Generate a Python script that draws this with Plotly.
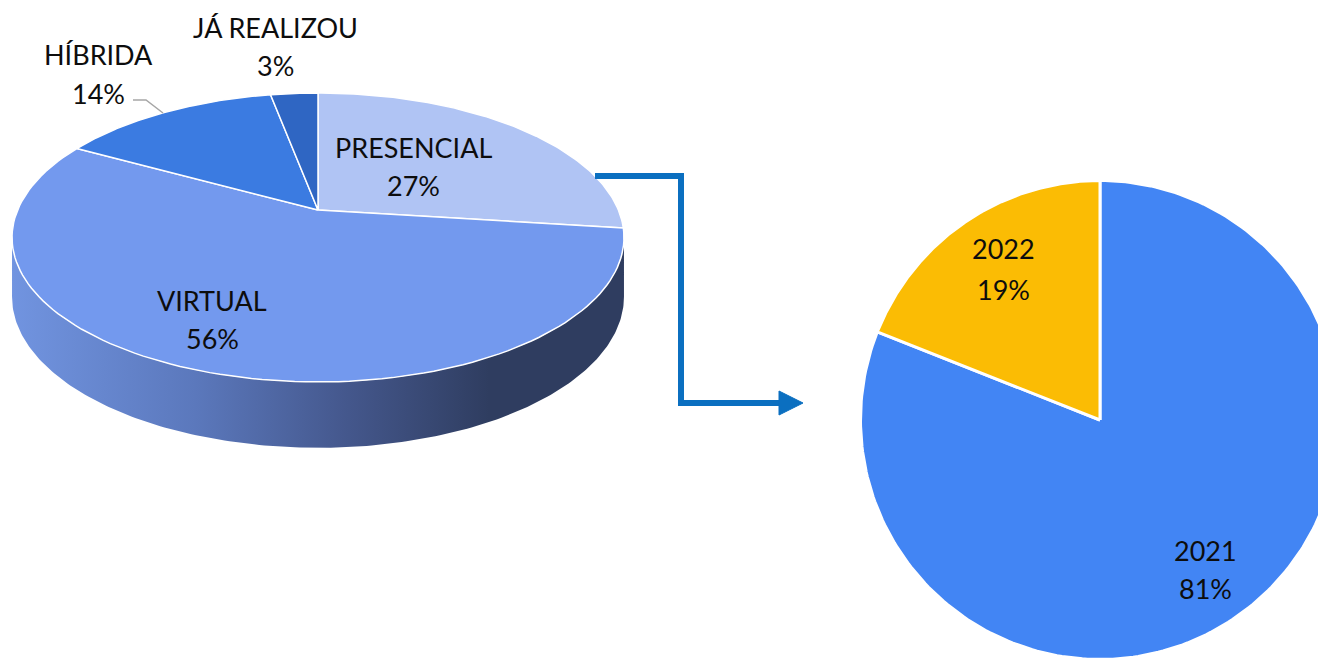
import numpy as np
import plotly.graph_objects as go

# ---------------- data ----------------
modes = ["PRESENCIAL", "VIRTUAL", "HÍBRIDA", "JÁ REALIZOU"]
mode_pct = [27, 56, 14, 3]
mode_colors = ["#B0C4F4", "#7399EE", "#3B7BE1", "#2F66C3"]

years = ["2021", "2022"]
year_pct = [81, 19]
year_colors = ["#4285F4", "#FBBC04"]

# ---------------- layout / style ----------------
W, H = 1326, 658
OFF = 8  # default page body margin
FONT = "Lato"
FSIZE = 27
TXT = "#0d0d0d"

# 3D pie geometry (perspective ellipse)
CX, CY, R3, B3, P3, DEPTH = 318, 210, 300.4, 139.3, 0.19, 58
# flat pie geometry
CX2, CY2, R2 = 1100, 420, 239.5

# label anchor positions (pixels), name line / pct line
mode_label_pos = [(413, 147, 185), (212, 300, 338), (98, 54, 93), (275, 27, 65)]
year_label_pos = [(1205, 550, 588), (1003, 248, 289)]


def proj(theta, depth=0.0):
    u, w = np.sin(theta), np.cos(theta)
    d = 1 + P3 * w
    return CX + R3 * u / d, CY - B3 * w / d + depth / d ** 0.6


fig = go.Figure()

# ---- side wall of 3D pie ----
t0 = np.arccos(-P3)
t1 = 2 * np.pi - np.arccos(-P3)
tt = np.linspace(t0, t1, 200)
xt, yt = proj(tt)
xb, yb = proj(tt[::-1], DEPTH)
fig.add_trace(go.Scatter(
    x=np.concatenate([xt, xb]), y=np.concatenate([yt, yb]),
    fill="toself", mode="lines", line=dict(width=0, color="rgba(0,0,0,0)"),
    fillgradient=dict(type="horizontal", start=12, stop=624,
                      colorscale=[[0, "#7194E0"], [0.3, "#5B78BC"], [0.55, "#44578C"],
                                  [0.78, "#2F3D60"], [1, "#2F3D60"]]),
    hoverinfo="skip", showlegend=False))

# ---- top face slices ----
cum = np.concatenate([[0], np.cumsum(mode_pct)]) / sum(mode_pct) * 2 * np.pi
for i in range(len(modes)):
    th = np.linspace(cum[i], cum[i + 1], 120)
    x, y = proj(th)
    fig.add_trace(go.Scatter(
        x=np.concatenate([[CX], x, [CX]]), y=np.concatenate([[CY], y, [CY]]),
        fill="toself", fillcolor=mode_colors[i], mode="lines",
        line=dict(color="white", width=1.5), hoverinfo="skip", showlegend=False))

# ---- flat pie ----
cum2 = np.concatenate([[0], np.cumsum(year_pct)]) / sum(year_pct) * 2 * np.pi
for i in range(len(years)):
    th = np.linspace(cum2[i], cum2[i + 1], 240)
    x = CX2 + R2 * np.sin(th)
    y = CY2 - R2 * np.cos(th)
    fig.add_trace(go.Scatter(
        x=np.concatenate([[CX2], x, [CX2]]), y=np.concatenate([[CY2], y, [CY2]]),
        fill="toself", fillcolor=year_colors[i], mode="lines",
        line=dict(color="white", width=3), hoverinfo="skip", showlegend=False))

# ---- connector arrow ----
ARROW = "#0B6FC0"
fig.add_trace(go.Scatter(x=[595, 681, 681, 782], y=[176, 176, 403, 403], mode="lines",
                         line=dict(color=ARROW, width=6), hoverinfo="skip", showlegend=False))
fig.add_trace(go.Scatter(x=[779, 803, 779, 779], y=[391, 403, 415, 391], mode="lines",
                         fill="toself", fillcolor=ARROW, line=dict(color=ARROW, width=1),
                         hoverinfo="skip", showlegend=False))

# ---- leader line for HÍBRIDA ----
fig.add_trace(go.Scatter(x=[133, 146, 163], y=[100, 100, 113], mode="lines",
                         line=dict(color="#A6A6A6", width=1.5), hoverinfo="skip", showlegend=False))

# ---- labels ----
ann = []
for name, pct, (lx, ly1, ly2) in zip(modes, mode_pct, mode_label_pos):
    ann.append(dict(x=lx, y=ly1, text=name))
    ann.append(dict(x=lx, y=ly2, text=f"{pct}%"))
for name, pct, (lx, ly1, ly2) in zip(years, year_pct, year_label_pos):
    ann.append(dict(x=lx, y=ly1, text=name))
    ann.append(dict(x=lx, y=ly2, text=f"{pct}%"))
for a in ann:
    a.update(xref="x", yref="y", showarrow=False, xanchor="center", yanchor="middle",
             font=dict(family=FONT, size=FSIZE, color=TXT))

fig.update_layout(
    width=W - OFF, height=H - OFF, margin=dict(l=0, r=0, t=0, b=0),
    paper_bgcolor="white", plot_bgcolor="white",
    xaxis=dict(range=[OFF, W], visible=False, fixedrange=True),
    yaxis=dict(range=[H, OFF], visible=False, fixedrange=True),
    annotations=ann, showlegend=False,
)
fig.write_html("out.html")
